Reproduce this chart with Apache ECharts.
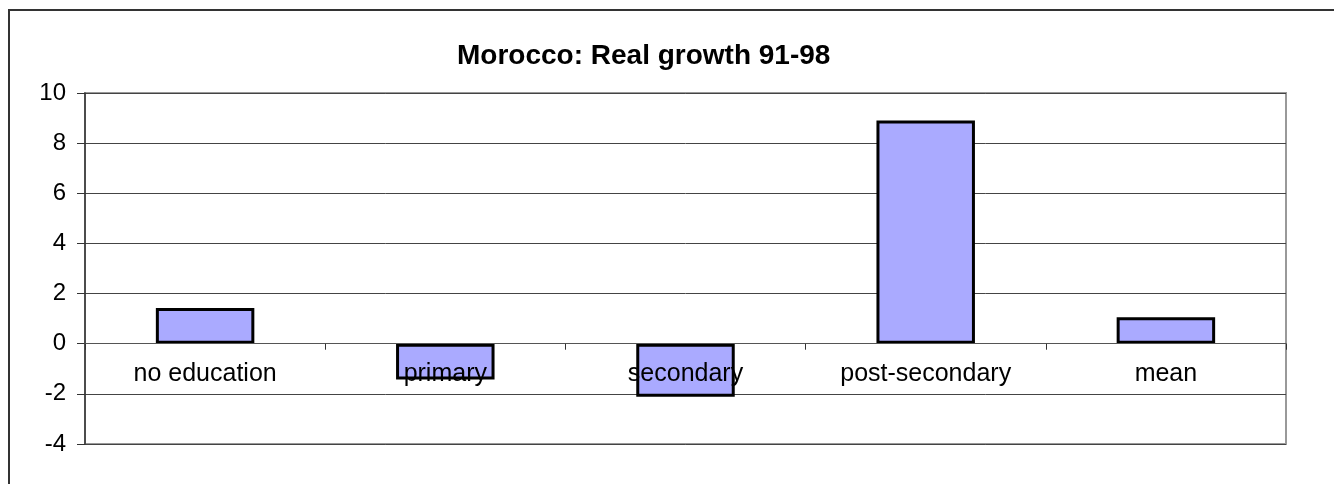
<!DOCTYPE html>
<html>
<head>
<meta charset="utf-8">
<script src="https://cdn.jsdelivr.net/npm/echarts@6/dist/echarts.min.js"></script>
<style>
  html, body { margin: 0; padding: 0; background: #fff; }
  #main { width: 1334px; height: 484px; }
</style>
</head>
<body>
<div id="main"></div>
<script>
// data
const categories = ["no education", "primary", "secondary", "post-secondary", "mean"]
const growth = [1.42, -1.43, -2.12, 8.9, 1.06]
const yTicks = { min: -4, max: 10, step: 2 }

const font = 'Arial, "Liberation Sans", sans-serif'

const gridTop = 93
const gridBottom = 40
const chartH = 484

// where the zero line sits, so the category axis (line, ticks, labels) can sit there
const plotH = chartH - gridTop - gridBottom
const zeroOffset = -plotH * (0 - yTicks.min) / (yTicks.max - yTicks.min)

const myChart = echarts.init(document.getElementById("main"))

const option = {
  backgroundColor: "#fff",
  animation: false,
  title: {
    text: "Morocco: Real growth 91-98",
    left: 452,
    top: 37,
    textStyle: { fontFamily: font, fontSize: 28, fontWeight: "bold", color: "#000" }
  },
  // outer chart border, only top and left are in view
  graphic: [
    {
      type: "rect",
      shape: { x: 9, y: 10, width: 1400, height: 600 },
      style: { fill: null, stroke: "#333", lineWidth: 2 },
      silent: true
    }
  ],
  grid: {
    left: 85,
    right: 48,
    top: gridTop,
    bottom: gridBottom,
    show: true,
    borderColor: "#999",
    borderWidth: 2
  },
  xAxis: {
    type: "category",
    data: categories,
    z: 5,
    position: "bottom",
    offset: zeroOffset,
    axisLine: { onZero: false, lineStyle: { color: "#555", width: 1 } },
    axisTick: { show: true, length: 6, inside: false, lineStyle: { color: "#333" } },
    axisLabel: { fontFamily: font, fontSize: 25, color: "#000", margin: 18 },
    splitLine: { show: false }
  },
  yAxis: {
    type: "value",
    min: yTicks.min,
    max: yTicks.max,
    interval: yTicks.step,
    axisLine: { show: true, lineStyle: { color: "#333", width: 1.5 } },
    axisTick: { show: true, length: 8, lineStyle: { color: "#333" } },
    axisLabel: { fontFamily: font, fontSize: 24, color: "#000", margin: 19 },
    splitLine: { show: true, lineStyle: { color: "#444", width: 1 } }
  },
  series: [
    {
      type: "bar",
      data: growth,
      barWidth: "41%",
      itemStyle: { color: "#aaaaff", borderColor: "#000", borderWidth: 3 }
    }
  ]
}

myChart.setOption(option)
</script>
</body>
</html>
